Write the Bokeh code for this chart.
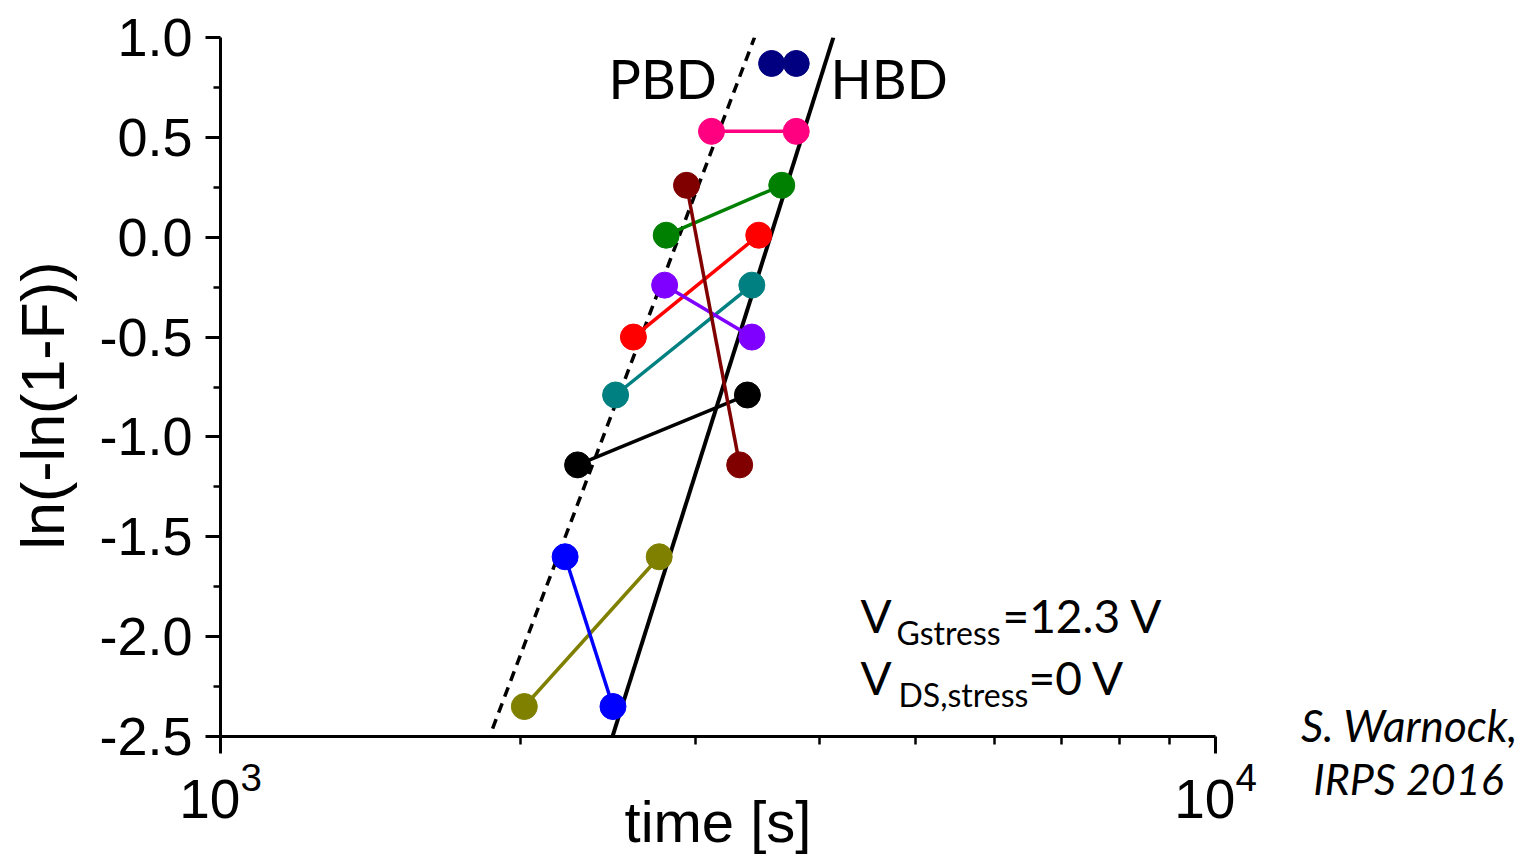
import math
from bokeh.plotting import figure
from bokeh.layouts import row, column
from bokeh.models import (FixedTicker, PrintfTickFormatter, LogTickFormatter, Label,
                          ColumnDataSource, Plot, Range1d)
from bokeh.embed import file_html
from bokeh.resources import INLINE

# ---------------- data ----------------
pbd_time = [2020, 2220, 2285, 2495, 2600, 2795, 2805, 2940, 3115, 3580]
pbd_lnln = [-2.35, -1.60, -1.14, -0.79, -0.50, -0.24, 0.01, 0.26, 0.53, 0.87]
hbd_time = [2760, 2480, 3385, 3420, 3475, 3420, 3665, 3325, 3790, 3790]
hbd_lnln = [-1.60, -2.35, -0.79, -0.24, 0.01, -0.50, 0.26, -1.14, 0.53, 0.87]
device_colors = ["#808000", "#0000ff", "#000000", "#008080", "#ff0000",
                 "#8000ff", "#008000", "#800000", "#ff0080", "#000080"]

pbd_fit_time = [1877, 3441]
pbd_fit_lnln = [-2.46, 1.0]
hbd_fit_time = [2477, 4130]
hbd_fit_lnln = [-2.5, 1.0]

x_major_ticks = [1000, 10000]
x_minor_ticks = [2000, 3000, 4000, 5000, 6000, 7000, 8000, 9000]
y_major_ticks = [-2.5, -2.0, -1.5, -1.0, -0.5, 0.0, 0.5, 1.0]
y_minor_ticks = [-2.25, -1.75, -1.25, -0.75, -0.25, 0.25, 0.75]

x_title = "time [s]"
y_title = "ln(-ln(1-F))"

# ---------------- layout constants ----------------
W, H = 1534, 856
LEFT_W = 85
SIDE_X = 1270
MAIN_W = SIDE_X - LEFT_W
FL, FR, FT, FB = 220, 1215, 37, 736
XMIN, XMAX = 1000, 10000
YMIN, YMAX = -2.5, 1.0
BASE_SHIFT = 0.4   # empirical baseline correction (fraction of font size)


def dx(px):
    return 10 ** (math.log10(XMIN) + (px - FL) / (FR - FL) * (math.log10(XMAX) - math.log10(XMIN)))


def dy(py):
    return YMAX - (py - FT) / (FB - FT) * (YMAX - YMIN)


def ident(v):
    return v


def txt(fig, px, py, text, size, xf=dx, yf=dy, **kw):
    fig.add_layout(Label(x=xf(px), y=yf(py - BASE_SHIFT * size), text=text,
                         text_font=kw.pop("font", "Lato"), text_font_size=f"{size}px",
                         text_baseline="alphabetic", text_color="black", **kw))


def panel(x0, x1, y_bottom, y_top):
    q = Plot(width=x1 - x0, height=H, x_range=Range1d(x0, x1), y_range=Range1d(y_bottom, y_top),
             output_backend="svg", toolbar_location=None,
             min_border=0, min_border_left=0, min_border_right=0,
             min_border_top=0, min_border_bottom=0)
    q.outline_line_color = None
    q.background_fill_color = "white"
    q.border_fill_color = "white"
    return q


p = figure(width=MAIN_W, height=H, x_axis_type="log",
           x_range=(XMIN, XMAX), y_range=(YMIN, YMAX),
           output_backend="svg", toolbar_location=None,
           min_border_left=FL - LEFT_W, min_border_right=SIDE_X - FR,
           min_border_top=FT, min_border_bottom=H - FB)
p.outline_line_color = None
p.xgrid.visible = False
p.ygrid.visible = False
p.background_fill_color = "white"
p.border_fill_color = "white"

# axes
xa = p.xaxis[0]
xa.ticker = FixedTicker(ticks=x_major_ticks, minor_ticks=x_minor_ticks)
xa.formatter = LogTickFormatter()
ya = p.yaxis[0]
ya.ticker = FixedTicker(ticks=y_major_ticks, minor_ticks=y_minor_ticks)
ya.formatter = PrintfTickFormatter(format="%.1f")
for ax in (xa, ya):
    ax.axis_line_width = 3
    ax.axis_line_color = "black"
    ax.major_tick_line_width = 3
    ax.minor_tick_line_width = 2.5
    ax.major_tick_line_color = "black"
    ax.minor_tick_line_color = "black"
    ax.major_tick_in = 0
    ax.minor_tick_in = 0
    ax.major_label_text_font = "Liberation Sans"
    ax.major_label_text_color = "black"
    ax.axis_label_text_font = "Liberation Sans"
    ax.axis_label_text_font_style = "normal"
    ax.axis_label_text_color = "black"
ya.major_tick_out = 15
ya.minor_tick_out = 7
ya.major_label_text_font_size = "54px"
ya.major_label_standoff = 13
xa.major_tick_out = 17
xa.minor_tick_out = 8
xa.major_label_text_font_size = "55px"
xa.major_label_standoff = 8
xa.axis_label = x_title
xa.axis_label_text_font_size = "58px"
xa.axis_label_standoff = -32

# fit lines
p.line(pbd_fit_time, pbd_fit_lnln, line_color="black", line_width=3.5, line_dash="10 7")
p.line(hbd_fit_time, hbd_fit_lnln, line_color="black", line_width=4)

# connectors
src = ColumnDataSource(dict(
    xs=[[a, b] for a, b in zip(pbd_time, hbd_time)],
    ys=[[a, b] for a, b in zip(pbd_lnln, hbd_lnln)],
    color=device_colors,
))
p.multi_line(xs="xs", ys="ys", line_color="color", line_width=3.5, source=src)

p.scatter(pbd_time, pbd_lnln, size=26, fill_color=device_colors, line_color=device_colors)
p.scatter(hbd_time, hbd_lnln, size=26, fill_color=device_colors, line_color=device_colors)

# annotations inside the frame
txt(p, 608, 100, "PBD", 54)
txt(p, 830, 100, "HBD", 54)
txt(p, 860, 633, "V", 46)
txt(p, 896, 645, "Gstress", 32)
txt(p, 1002, 633, "=12.3 V", 46)
txt(p, 860, 695, "V", 46)
txt(p, 898, 707, "DS,stress", 32)
txt(p, 1028, 695, "=0 V", 46)

# left panel: y-axis title (its frame is aligned with the main frame)
left = panel(0, LEFT_W, FB, FT)
left.add_layout(Label(x=42, y=405, text=y_title, text_font="Liberation Sans",
                      text_font_size="61px", text_align="center", text_baseline="middle",
                      angle=math.pi / 2, text_color="black"))

# right panel: citation (wrapped in a column so it keeps a full-height frame)
side = panel(SIDE_X, W, H, 0)
txt(side, 1409, 742, "S. Warnock,", 44, xf=ident, yf=ident, text_font_style="italic", text_align="center")
txt(side, 1408, 795, "IRPS 2016", 43, xf=ident, yf=ident, text_font_style="italic", text_align="center")

layout = row(left, p, column(side, spacing=0), spacing=0)
open("out.html", "w").write(file_html(layout, INLINE))
